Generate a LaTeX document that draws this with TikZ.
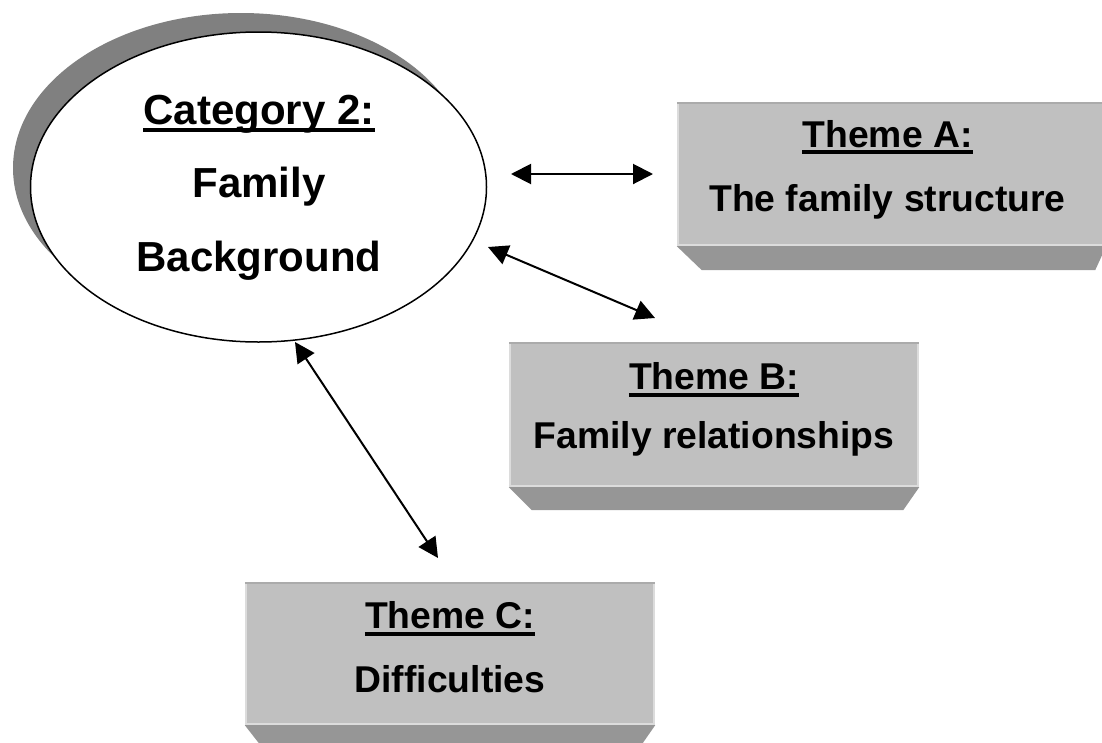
\documentclass[tikz,border=0pt]{standalone}
\usepackage{fontspec}
\setmainfont{Liberation Sans}
\usetikzlibrary{arrows.meta,shapes.geometric}
\definecolor{facegray}{HTML}{C0C0C0}
\definecolor{bevelgray}{HTML}{969696}
\definecolor{topgray}{HTML}{ABABAB}
\definecolor{litegray}{HTML}{DCDCDC}
\definecolor{shadowgray}{HTML}{808080}
\begin{document}
\begin{tikzpicture}[x=1pt,y=-1pt,
  facebox/.style={fill=facegray, draw=none, inner sep=0pt, rectangle},
  bigtxt/.style={font=\fontsize{42}{50}\bfseries\selectfont, inner sep=0pt, anchor=base},
  boxtxt/.style={font=\fontsize{37.3}{45}\bfseries\selectfont, inner sep=0pt, anchor=base},
  uline/.style={line width=#1},
  link/.style={line width=2pt, {Triangle[length=20pt,width=20pt]}-{Triangle[length=20pt,width=20pt]}}
]
\useasboundingbox (0,0) rectangle (1102,742);

% ---------- ellipse with shadow ----------
\fill[shadowgray] (241,168) ellipse [x radius=228pt, y radius=155pt];
\node[ellipse, draw, line width=1.5pt, fill=white, inner sep=0pt,
      minimum width=456pt, minimum height=310pt] (E) at (258.5,187) {};
\node[bigtxt] (e1) at (259,124) {Category 2:};
\draw[uline=4pt] ([yshift=-6pt]e1.base west) -- ([yshift=-6pt]e1.base east);
\node[bigtxt] (e2) at (259,197) {Family};
\node[bigtxt] (e3) at (259,271) {Background};

% ---------- bevel box macro-like drawing ----------
% Box A
\node[facebox, minimum width=429pt, minimum height=144pt] (A) at (891.5,174) {};
\fill[bevelgray] (A.south west) -- (A.south east) -- ([xshift=-11pt,yshift=-24pt]A.south east) -- ([xshift=25pt,yshift=-24pt]A.south west) -- cycle;
\draw[topgray, line width=2.5pt] ([yshift=-1.25pt]A.north west) -- ([yshift=-1.25pt]A.north east);
\draw[litegray, line width=2.5pt] ([xshift=1.25pt,yshift=-2.5pt]A.north west) -- ([xshift=1.25pt]A.south west);
\draw[litegray, line width=2pt] ([yshift=1pt]A.south west) -- ([yshift=1pt]A.south east);
\node[boxtxt] (a1) at (887.5,147) {Theme A:};
\draw[uline=3.2pt] ([yshift=-5pt]a1.base west) -- ([yshift=-5pt]a1.base east);
\node[boxtxt] (a2) at (887.5,211) {The family structure};

% Box B
\node[facebox, minimum width=410pt, minimum height=145pt] (B) at (714,414.5) {};
\fill[bevelgray] (B.south west) -- (B.south east) -- ([xshift=-16pt,yshift=-23pt]B.south east) -- ([xshift=23pt,yshift=-23pt]B.south west) -- cycle;
\draw[topgray, line width=2.5pt] ([yshift=-1.25pt]B.north west) -- ([yshift=-1.25pt]B.north east);
\draw[litegray, line width=2.5pt] ([xshift=1.25pt,yshift=-2.5pt]B.north west) -- ([xshift=1.25pt]B.south west);
\draw[litegray, line width=2.5pt] ([xshift=-1.25pt,yshift=-2.5pt]B.north east) -- ([xshift=-1.25pt]B.south east);
\draw[litegray, line width=2pt] ([yshift=1pt]B.south west) -- ([yshift=1pt]B.south east);
\node[boxtxt] (b1) at (714,389.5) {Theme B:};
\draw[uline=3.2pt] ([yshift=-5.5pt]b1.base west) -- ([yshift=-5.5pt]b1.base east);
\node[boxtxt] (b2) at (714,448) {Family relationships};

% Box C
\node[facebox, minimum width=410pt, minimum height=143pt] (C) at (450,653.5) {};
\fill[bevelgray] (C.south west) -- (C.south east) -- ([xshift=-16pt,yshift=-23pt]C.south east) -- ([xshift=18pt,yshift=-23pt]C.south west) -- cycle;
\draw[topgray, line width=2.5pt] ([yshift=-1.25pt]C.north west) -- ([yshift=-1.25pt]C.north east);
\draw[litegray, line width=2.5pt] ([xshift=1.25pt,yshift=-2.5pt]C.north west) -- ([xshift=1.25pt]C.south west);
\draw[litegray, line width=2.5pt] ([xshift=-1.25pt,yshift=-2.5pt]C.north east) -- ([xshift=-1.25pt]C.south east);
\draw[litegray, line width=2pt] ([yshift=1pt]C.south west) -- ([yshift=1pt]C.south east);
\node[boxtxt] (c1) at (450,628.5) {Theme C:};
\draw[uline=3.2pt] ([yshift=-5.5pt]c1.base west) -- ([yshift=-5.5pt]c1.base east);
\node[boxtxt] (c2) at (450,692) {Difficulties};

% ---------- connectors ----------
\coordinate (pA1) at (511,174);
\coordinate (pA2) at (653,174);
\coordinate (pB1) at (488,247);
\coordinate (pB2) at (655,318);
\coordinate (pC1) at (295,342);
\coordinate (pC2) at (438,558);
\draw[link] (pA1) -- (pA2);
\draw[link] (pB1) -- (pB2);
\draw[link] (pC1) -- (pC2);
\end{tikzpicture}
\end{document}
